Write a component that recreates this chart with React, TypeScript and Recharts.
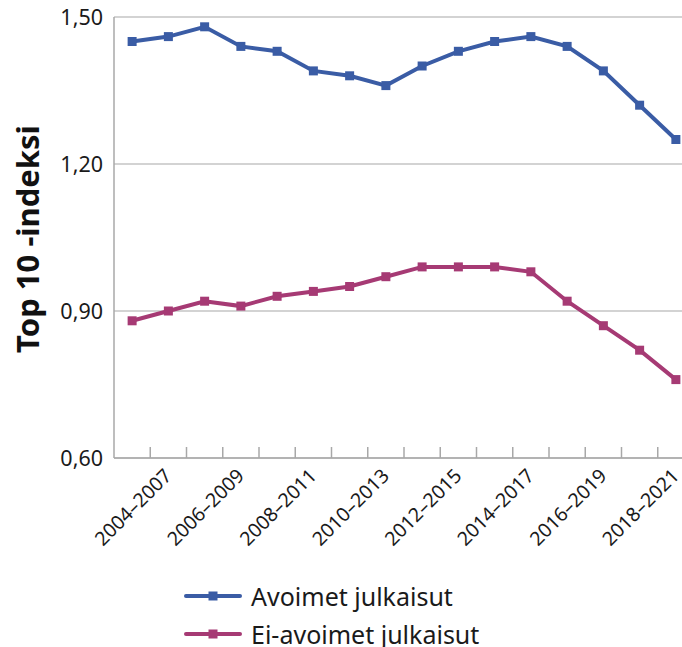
import React from 'react';
import { LineChart, Line, XAxis, YAxis, CartesianGrid } from 'recharts';

const categories = [
  '2003–2006', '2004–2007', '2005–2008', '2006–2009', '2007–2010', '2008–2011',
  '2009–2012', '2010–2013', '2011–2014', '2012–2015', '2013–2016', '2014–2017',
  '2015–2018', '2016–2019', '2017–2020', '2018–2021',
];
const avoimet = [1.45, 1.46, 1.48, 1.44, 1.43, 1.39, 1.38, 1.36, 1.40, 1.43, 1.45, 1.46, 1.44, 1.39, 1.32, 1.25];
const eiAvoimet = [0.88, 0.90, 0.92, 0.91, 0.93, 0.94, 0.95, 0.97, 0.99, 0.99, 0.99, 0.98, 0.92, 0.87, 0.82, 0.76];
const yTicks = [0.6, 0.9, 1.2, 1.5];
const seriesNames = ['Avoimet julkaisut', 'Ei-avoimet julkaisut'];
const seriesColors = ['#3A5CA5', '#A63A74'];

const data = categories.map((c, i) => ({ period: c, avoimet: avoimet[i], ei: eiAvoimet[i] }));

const FONT = '"Noto Sans", "Open Sans", sans-serif';
const AXIS = '#A8A8A8';

const XTick = (props: any) => {
  const { x, y, payload, index } = props;
  const half = payload && typeof payload.offset === 'number' && payload.offset > 0 ? payload.offset : 18.125;
  const idx = typeof index === 'number' ? index : payload.index;
  const lx = x + 4.5;
  const ly = y + 19;
  return (
    <g>
      <line x1={x + half} x2={x + half} y1={y} y2={y - 11} stroke={AXIS} strokeWidth={1.5} />
      {idx % 2 === 1 ? (
        <text
          x={lx}
          y={ly}
          textAnchor="end"
          transform={`rotate(-45, ${lx}, ${ly})`}
          fontSize={19.5}
          fontFamily={FONT}
          fill="#1a1a1a"
        >
          {payload.value}
        </text>
      ) : null}
    </g>
  );
};

const makeDot = (color: string) => (props: any) => {
  const { cx, cy, index } = props;
  return <rect key={`d-${color}-${index}`} x={cx - 4.5} y={cy - 4.5} width={9} height={9} fill={color} />;
};

const LegendIcon = ({ color }: { color: string }) => (
  <svg width={58} height={14} style={{ display: 'block' }}>
    <line x1={2} x2={56} y1={7} y2={7} stroke={color} strokeWidth={4} strokeLinecap="round" />
    <rect x={24.5} y={2.5} width={9} height={9} fill={color} />
  </svg>
);

export default function App() {
  return (
    <div style={{ position: 'fixed', left: 0, top: 0, width: 682, height: 647, overflow: 'hidden', background: '#fff' }}>
      <LineChart width={720} height={560} data={data} margin={{ top: 17, right: 26, left: 0, bottom: 0 }}>
        <CartesianGrid vertical={false} stroke="#C4C4C4" strokeWidth={1.5} />
        <XAxis
          dataKey="period"
          scale="band"
          interval={0}
          tickLine={false}
          tickSize={0}
          tickMargin={0}
          height={102}
          axisLine={{ stroke: AXIS, strokeWidth: 1.5 }}
          tick={<XTick />}
        />
        <YAxis
          width={114}
          domain={[0.6, 1.5]}
          ticks={yTicks}
          tickLine={false}
          tickSize={0}
          tickMargin={11}
          axisLine={{ stroke: AXIS, strokeWidth: 1.5 }}
          tickFormatter={(v: number) => v.toFixed(2).replace('.', ',')}
          tick={{ fontSize: 21.5, fontFamily: FONT, fill: '#1a1a1a' }}
          label={{
            content: () => (
              <text
                x={39}
                y={239}
                transform="rotate(-90, 39, 239)"
                textAnchor="middle"
                fontSize={31}
                fontWeight="bold"
                fontFamily={FONT}
                fill="#111"
              >
                Top 10 -indeksi
              </text>
            ),
          }}
        />
        <Line
          dataKey="avoimet"
          name={seriesNames[0]}
          stroke={seriesColors[0]}
          strokeWidth={4}
          dot={makeDot(seriesColors[0])}
          activeDot={false}
          isAnimationActive={false}
        />
        <Line
          dataKey="ei"
          name={seriesNames[1]}
          stroke={seriesColors[1]}
          strokeWidth={4}
          dot={makeDot(seriesColors[1])}
          activeDot={false}
          isAnimationActive={false}
        />
      </LineChart>
      <div style={{ position: 'absolute', left: 184, top: 577, fontFamily: FONT, fontSize: 25, color: '#1a1a1a' }}>
        {seriesNames.map((n, i) => (
          <div key={n} style={{ display: 'flex', alignItems: 'center', height: 38, lineHeight: '38px' }}>
            <LegendIcon color={seriesColors[i]} />
            <span style={{ marginLeft: 9 }}>{n}</span>
          </div>
        ))}
      </div>
    </div>
  );
}
